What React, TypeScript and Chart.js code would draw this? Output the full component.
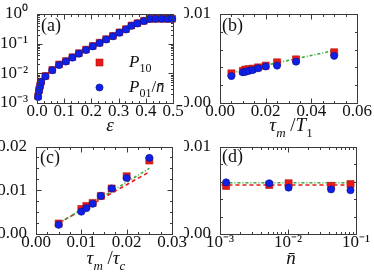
import React, { useEffect, useRef } from 'react';
import { Chart, registerables } from 'chart.js';
Chart.register(...registerables);

const W = 374;
const H = 278;
const FONT = "'Liberation Serif', 'Times New Roman', serif";
const RED = 'rgb(236,24,24)';
const RED_EDGE = 'rgb(170,20,20)';
const BLUE = 'rgb(16,32,232)';
const BLUE_EDGE = 'rgb(10,20,140)';
const GREEN = 'rgb(60,170,60)';

// ---------- Panel (a) ----------
const aEps = [0.004, 0.0075, 0.011, 0.015, 0.031, 0.056, 0.081, 0.106, 0.13, 0.154, 0.18, 0.205, 0.23, 0.254, 0.279, 0.303, 0.327, 0.347, 0.369, 0.393, 0.414, 0.436, 0.458, 0.479, 0.497];
const aP10 = [0.0017, 0.0027, 0.0038, 0.0053, 0.0082, 0.0131, 0.02, 0.026, 0.035, 0.048, 0.063, 0.084, 0.108, 0.142, 0.183, 0.24, 0.31, 0.41, 0.49, 0.59, 0.68, 0.69, 0.69, 0.69, 0.69];
const aP01 = [0.0016, 0.0026, 0.0036, 0.0051, 0.0079, 0.0127, 0.019, 0.025, 0.034, 0.046, 0.061, 0.081, 0.105, 0.138, 0.178, 0.235, 0.3, 0.4, 0.48, 0.58, 0.68, 0.69, 0.69, 0.69, 0.69];
const aLineEps = [0.001, 0.004, 0.0075, 0.011, 0.015, 0.031, 0.056, 0.081, 0.106, 0.13, 0.154, 0.18, 0.205, 0.23, 0.254, 0.279, 0.303, 0.327, 0.347, 0.369, 0.393, 0.414];
const aLineP = [0.0011, 0.0017, 0.0027, 0.0038, 0.0053, 0.0085, 0.0133, 0.02, 0.026, 0.035, 0.048, 0.063, 0.084, 0.108, 0.142, 0.183, 0.24, 0.31, 0.41, 0.49, 0.59, 0.68];
const aXTicks = [0, 0.1, 0.2, 0.3, 0.4, 0.5];
const aXLabels = ['0.0', '0.1', '0.2', '0.3', '0.4', '0.5'];
const aYTicks = [0.001, 0.01, 0.1, 1];
const aYLabels = ['10⁻³', '10⁻²', '10⁻¹', '10⁰'];

// ---------- Panel (b) ----------
const bX = [0.005, 0.01, 0.0111, 0.0125, 0.0143, 0.0167, 0.02, 0.025, 0.0333, 0.05];
const bP10 = [0.00333, 0.0036, 0.00375, 0.0038, 0.00386, 0.004, 0.0042, 0.00457, 0.0049, 0.0057];
const bP01 = [0.00303, 0.00345, 0.0035, 0.0036, 0.0037, 0.0039, 0.0041, 0.0042, 0.00464, 0.0053];
const bFitX = [0.005, 0.05];
const bFitGreen = [0.0034, 0.0059];
const bXTicks = [0, 0.02, 0.04, 0.06];
const bXLabels = ['0.00', '0.02', '0.04', '0.06'];
const bYTicks = [0, 0.01];
const bYLabels = ['0.00', '0.01'];

// ---------- Panel (c) ----------
const cX = [0.005, 0.01, 0.0111, 0.0125, 0.0143, 0.0167, 0.02, 0.025];
const cP10 = [0.0024, 0.0057, 0.0064, 0.0071, 0.0087, 0.0104, 0.0132, 0.0168];
const cP01 = [0.0021, 0.0051, 0.0059, 0.0069, 0.0087, 0.0104, 0.0128, 0.0174];
const cFitX = [0.005, 0.025];
const cFitRed = [0.0025, 0.0142];
const cFitGreen = [0.0024, 0.015];
const cXTicks = [0, 0.01, 0.02, 0.03];
const cXLabels = ['0.00', '0.01', '0.02', '0.03'];
const cYTicks = [0, 0.01, 0.02];
const cYLabels = ['0.00', '0.01', '0.02'];

// ---------- Panel (d) ----------
const dX = [0.00123, 0.0053, 0.0102, 0.043, 0.083];
const dP10 = [0.0055, 0.0056, 0.0058, 0.0055, 0.0057];
const dP01 = [0.0059, 0.0058, 0.0053, 0.0051, 0.005];
const dFitX = [0.00105, 0.095];
const dFitRed = [0.0056, 0.0056];
const dFitGreen = [0.00585, 0.00585];
const dXTicks = [0.001, 0.01, 0.1];
const dXLabels = ['10⁻³', '10⁻²', '10⁻¹'];
const dYTicks = [0, 0.01];
const dYLabels = ['0.00', '0.01'];

type Seg = { t: string; it?: boolean; sub?: boolean };

const pts = (xs: number[], ys: number[]) => xs.map((x, i) => ({ x, y: ys[i] }));

function segFont(s: Seg, size: number) {
  const sz = s.sub ? Math.round(size * 0.7) : size;
  return `${s.it ? 'italic ' : ''}${sz}px ${FONT}`;
}

function drawRich(ctx: CanvasRenderingContext2D, segs: Seg[], x: number, y: number, size: number, align: 'left' | 'center') {
  const widths = segs.map((s) => {
    ctx.font = segFont(s, size);
    return ctx.measureText(s.t).width;
  });
  const total = widths.reduce((a, b) => a + b, 0);
  let cx = align === 'center' ? x - total / 2 : x;
  ctx.textAlign = 'left';
  ctx.textBaseline = 'alphabetic';
  segs.forEach((s, i) => {
    ctx.font = segFont(s, size);
    ctx.fillText(s.t, cx, y + (s.sub ? size * 0.3 : 0));
    cx += widths[i];
  });
}

function linSteps(min: number, max: number, step: number) {
  const out: number[] = [];
  const n = Math.round((max - min) / step);
  for (let i = 0; i <= n; i++) out.push(min + i * step);
  return out;
}
function logMinor(minExp: number, maxExp: number) {
  const out: number[] = [];
  for (let e = minExp; e < maxExp; e++) for (let m = 2; m <= 9; m++) out.push(m * Math.pow(10, e));
  return out;
}

type Spec = {
  id: string;
  frame: [number, number, number, number]; // L T R B
  xType: 'linear' | 'logarithmic';
  yType: 'linear' | 'logarithmic';
  xMin: number; xMax: number; yMin: number; yMax: number;
  xTicks: number[]; xLabels: string[]; yTicks: number[]; yLabels: string[];
  xMinor: number[]; yMinor: number[];
  panel: string; panelPos: [number, number];
  title: Seg[]; titlePos: [number, number];
  datasets: any[];
  legend?: boolean;
};

function decoPlugin(spec: Spec) {
  return {
    id: 'deco_' + spec.id,
    afterDraw(chart: any) {
      const ctx: CanvasRenderingContext2D = chart.ctx;
      const { left, right, top, bottom } = chart.chartArea;
      const xs = chart.scales.x;
      const ys = chart.scales.y;
      ctx.save();
      ctx.strokeStyle = '#3a3a3a';
      ctx.lineWidth = 1;
      const L = Math.round(left) + 0.5, R = Math.round(right) + 0.5, T = Math.round(top) + 0.5, B = Math.round(bottom) + 0.5;
      ctx.strokeRect(L, T, R - L, B - T);
      const tickX = (v: number, len: number) => {
        const p = Math.round(xs.getPixelForValue(v)) + 0.5;
        if (p < L - 1 || p > R + 1) return;
        ctx.beginPath();
        ctx.moveTo(p, B); ctx.lineTo(p, B - len);
        ctx.moveTo(p, T); ctx.lineTo(p, T + len);
        ctx.stroke();
      };
      const tickY = (v: number, len: number) => {
        const p = Math.round(ys.getPixelForValue(v)) + 0.5;
        if (p < T - 1 || p > B + 1) return;
        ctx.beginPath();
        ctx.moveTo(L, p); ctx.lineTo(L + len, p);
        ctx.moveTo(R, p); ctx.lineTo(R - len, p);
        ctx.stroke();
      };
      spec.xMinor.forEach((v) => tickX(v, 2.5));
      spec.yMinor.forEach((v) => tickY(v, 2.5));
      spec.xTicks.forEach((v) => tickX(v, 5));
      spec.yTicks.forEach((v) => tickY(v, 5));

      ctx.fillStyle = '#111';
      ctx.font = `18px ${FONT}`;
      ctx.textAlign = 'left';
      ctx.textBaseline = 'alphabetic';
      ctx.fillText(spec.panel, spec.panelPos[0], spec.panelPos[1]);
      drawRich(ctx, spec.title, spec.titlePos[0], spec.titlePos[1], 19, 'center');

      if (spec.legend) {
        ctx.fillStyle = RED;
        ctx.strokeStyle = RED_EDGE;
        ctx.lineWidth = 0.6;
        ctx.fillRect(96, 59, 7, 7);
        ctx.strokeRect(96, 59, 7, 7);
        ctx.fillStyle = BLUE;
        ctx.strokeStyle = BLUE_EDGE;
        ctx.beginPath();
        ctx.arc(99.5, 87.5, 3.6, 0, Math.PI * 2);
        ctx.fill();
        ctx.stroke();
        ctx.fillStyle = '#111';
        drawRich(ctx, [{ t: 'P', it: true }, { t: '10', sub: true }], 129, 67, 17, 'left');
        drawRich(ctx, [{ t: 'P', it: true }, { t: '01', sub: true }, { t: '/' }, { t: 'n̄', it: true }], 129, 92, 17, 'left');
      }
      ctx.restore();
    },
  };
}

function scatterSet(data: any[], color: string, edge: string, style: string, radius: number) {
  return {
    data,
    showLine: false,
    pointStyle: style,
    pointRadius: radius,
    backgroundColor: color,
    borderColor: edge,
    pointBorderWidth: 0.6,
    clip: 10,
  };
}
function lineSet(data: any[], color: string, dash: number[], width = 1.6) {
  return {
    data,
    showLine: true,
    pointRadius: 0,
    borderColor: color,
    borderWidth: width,
    borderDash: dash,
    backgroundColor: color,
    fill: false,
    tension: 0,
  };
}

const YW = 36;
const XH = 24;

function axisCfg(type: string, min: number, max: number, ticks: number[], labels: string[], horizontal: boolean) {
  return {
    type,
    min,
    max,
    position: horizontal ? 'bottom' : 'left',
    grid: { display: false },
    border: { display: false },
    ticks: {
      font: { family: FONT, size: 17 },
      color: '#111',
      padding: horizontal ? -10 : 1,
      maxRotation: 0,
      minRotation: 0,
      autoSkip: false,
      callback: (_v: any, i: number) => labels[i],
    },
    afterBuildTicks: (scale: any) => {
      scale.ticks = ticks.map((v) => ({ value: v }));
    },
    afterFit: (scale: any) => {
      if (horizontal) scale.height = XH;
      else scale.width = YW;
    },
  };
}

const specs: Spec[] = [
  {
    id: 'a', frame: [37, 14, 173, 103], xType: 'linear', yType: 'logarithmic',
    xMin: 0, xMax: 0.5, yMin: 0.001, yMax: 1,
    xTicks: aXTicks, xLabels: aXLabels, yTicks: aYTicks, yLabels: aYLabels,
    xMinor: linSteps(0, 0.5, 0.025), yMinor: logMinor(-3, 0),
    panel: '(a)', panelPos: [41, 31],
    title: [{ t: 'ε', it: true }], titlePos: [110, 131],
    legend: true,
    datasets: [
      scatterSet(pts(aEps, aP01), BLUE, BLUE_EDGE, 'circle', 3.6),
      scatterSet(pts(aEps, aP10), RED, RED_EDGE, 'rect', 4.8),
      lineSet(pts(aLineEps, aLineP), RED, [], 1.3),
    ],
  },
  {
    id: 'b', frame: [220, 14, 357, 103], xType: 'linear', yType: 'linear',
    xMin: 0, xMax: 0.06, yMin: 0, yMax: 0.01,
    xTicks: bXTicks, xLabels: bXLabels, yTicks: bYTicks, yLabels: bYLabels,
    xMinor: linSteps(0, 0.06, 0.005), yMinor: linSteps(0, 0.01, 0.002),
    panel: '(b)', panelPos: [222, 31],
    title: [{ t: 'τ', it: true }, { t: 'm', it: true, sub: true }, { t: ' /' }, { t: 'T', it: true }, { t: '1', sub: true }],
    titlePos: [291, 131],
    datasets: [
      scatterSet(pts(bX, bP01), BLUE, BLUE_EDGE, 'circle', 3.6),
      scatterSet(pts(bX, bP10), RED, RED_EDGE, 'rect', 5),
      lineSet(pts(bFitX, bFitGreen), GREEN, [3, 2, 1, 2]),
    ],
  },
  {
    id: 'c', frame: [36, 146.5, 172, 234], xType: 'linear', yType: 'linear',
    xMin: 0, xMax: 0.03, yMin: 0, yMax: 0.02,
    xTicks: cXTicks, xLabels: cXLabels, yTicks: cYTicks, yLabels: cYLabels,
    xMinor: linSteps(0, 0.03, 0.0025), yMinor: linSteps(0, 0.02, 0.0025),
    panel: '(c)', panelPos: [40, 163],
    title: [{ t: 'τ', it: true }, { t: 'm', it: true, sub: true }, { t: ' /' }, { t: 'τ', it: true }, { t: 'c', it: true, sub: true }],
    titlePos: [106, 264],
    datasets: [
      scatterSet(pts(cX, cP01), BLUE, BLUE_EDGE, 'circle', 3.6),
      scatterSet(pts(cX, cP10), RED, RED_EDGE, 'rect', 5),
      lineSet(pts(cFitX, cFitGreen), GREEN, [3, 2, 1, 2]),
      lineSet(pts(cFitX, cFitRed), RED, [4, 3]),
    ],
  },
  {
    id: 'd', frame: [220, 146.5, 356, 234], xType: 'logarithmic', yType: 'linear',
    xMin: 0.001, xMax: 0.1, yMin: 0, yMax: 0.01,
    xTicks: dXTicks, xLabels: dXLabels, yTicks: dYTicks, yLabels: dYLabels,
    xMinor: logMinor(-3, -1), yMinor: linSteps(0, 0.01, 0.002),
    panel: '(d)', panelPos: [222, 162],
    title: [{ t: 'n̄', it: true }], titlePos: [291, 264],
    datasets: [
      scatterSet(pts(dX, dP01), BLUE, BLUE_EDGE, 'circle', 3.6),
      scatterSet(pts(dX, dP10), RED, RED_EDGE, 'rect', 5),
      lineSet(pts(dFitX, dFitGreen), GREEN, [3, 2, 1, 2]),
      lineSet(pts(dFitX, dFitRed), RED, [4, 3]),
    ],
  },
];

function Panel({ spec }: { spec: Spec }) {
  const ref = useRef<HTMLCanvasElement>(null);
  useEffect(() => {
    if (!ref.current) return;
    const [L, T, R, B] = spec.frame;
    const chart = new Chart(ref.current, {
      type: 'scatter',
      data: { datasets: spec.datasets },
      options: {
        responsive: false,
        animation: false,
        devicePixelRatio: 1,
        events: [],
        layout: { padding: { left: L - YW, top: T, right: W - R, bottom: H - B - XH } },
        plugins: { legend: { display: false }, tooltip: { enabled: false } },
        scales: {
          x: axisCfg(spec.xType, spec.xMin, spec.xMax, spec.xTicks, spec.xLabels, true),
          y: axisCfg(spec.yType, spec.yMin, spec.yMax, spec.yTicks, spec.yLabels, false),
        },
      } as any,
      plugins: [decoPlugin(spec)],
    });
    return () => chart.destroy();
  }, [spec]);
  return (
    <canvas
      ref={ref}
      width={W}
      height={H}
      style={{ position: 'absolute', left: 0, top: 0, width: W, height: H }}
    />
  );
}

export default function App() {
  return (
    <div style={{ position: 'absolute', left: 0, top: 0, width: W, height: H, background: '#fff', overflow: 'hidden' }}>
      {specs.map((s) => (
        <Panel key={s.id} spec={s} />
      ))}
    </div>
  );
}
